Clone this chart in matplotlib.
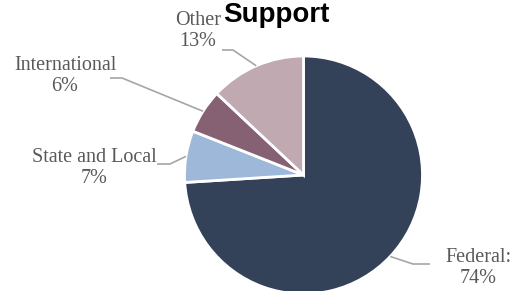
import numpy as np
import matplotlib
matplotlib.use("Agg")
import matplotlib.pyplot as plt

categories = ["Federal:", "State and Local", "International", "Other"]
values = [74, 7, 6, 13]
colors = ["#344259", "#9DB8D9", "#866173", "#C0A9B0"]
title = "Support"

W, H = 523, 291
cx, cy, R = 303.5, 175.0, 119.0  # pie centre / radius in pixels


def px(x, y):
    return (x - cx) / R, (cy - y) / R


fig = plt.figure(figsize=(W / 100, H / 100), dpi=100)
ax = fig.add_axes([0, 0, 1, 1])

wedges, _ = ax.pie(values, colors=colors, startangle=90, counterclock=False,
                   radius=1.0, center=(0, 0), frame=True,
                   wedgeprops=dict(edgecolor="white", linewidth=2))
ax.set_xlim(-cx / R, (W - cx) / R)
ax.set_ylim(-(H - cy) / R, cy / R)
ax.set_aspect("equal")
ax.axis("off")

# label layout (pixels): text centre, elbow point, line end near text
layout = {
    "Federal:": dict(text=(478, 268), elbow=(413, 264), end=(430, 264)),
    "State and Local": dict(text=(94, 168), elbow=(170, 164), end=(157, 164)),
    "International": dict(text=(65, 76), elbow=(122, 78), end=(110, 78)),
    "Other": dict(text=(198, 31), elbow=(233, 50), end=(222, 50)),
}

txtcol = "#595959"
for w, cat, v in zip(wedges, categories, values):
    ang = np.deg2rad((w.theta1 + w.theta2) / 2)
    ex, ey = np.cos(ang), np.sin(ang)
    L = layout[cat]
    bx, by = px(*L["elbow"])
    fx, fy = px(*L["end"])
    ax.plot([ex, bx, fx], [ey, by, fy], color="#A6A6A6", lw=1.2,
            solid_capstyle="butt", zorder=1)
    tx, ty = px(*L["text"])
    ax.text(tx, ty, f"{cat}\n{v}%", ha="center", va="center",
            family="Liberation Serif", fontsize=14.5, color=txtcol,
            linespacing=1.1)

fig.text(276 / W, 1 - 15 / H, title, ha="center", va="center",
         family="Liberation Sans", fontweight="bold", fontsize=20, color="black")

fig.savefig("out.png", dpi=100)
